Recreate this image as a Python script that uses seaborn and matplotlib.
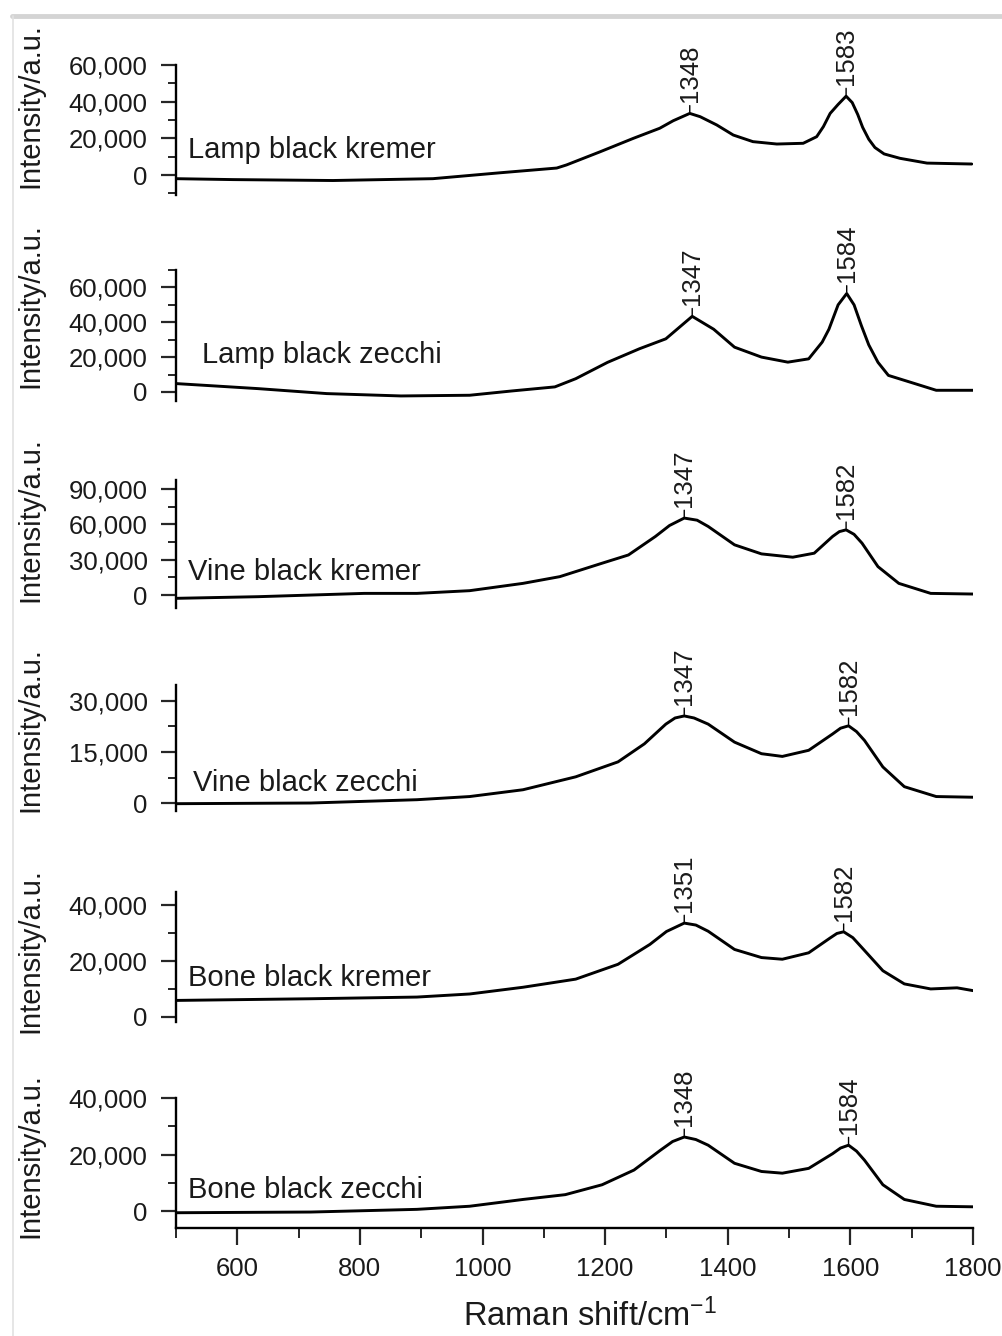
import matplotlib
matplotlib.use("Agg")
import matplotlib.pyplot as plt
from matplotlib.ticker import MultipleLocator, FuncFormatter
from matplotlib.lines import Line2D
import seaborn as sns
import numpy as np

# ---------------- data ----------------
sample_names = ["Lamp black kremer", "Lamp black zecchi", "Vine black kremer",
                "Vine black zecchi", "Bone black kremer", "Bone black zecchi"]

wn_lamp_kremer = [500, 593, 756, 919, 1028, 1121, 1137, 1192, 1246, 1289, 1311, 1338, 1355,
                  1382, 1409, 1441, 1480, 1523, 1545, 1556, 1567, 1580, 1593, 1603, 1612,
                  1620, 1630, 1640, 1655, 1681, 1725, 1798]
int_lamp_kremer = [-2000, -2500, -3000, -2000, 1200, 3800, 5500, 12700, 20000, 25500, 29600,
                   33600, 31800, 27300, 21800, 18200, 16900, 17300, 20900, 26400, 33600,
                   38500, 43000, 39500, 33000, 26000, 19500, 15000, 11500, 9100, 6500, 6000]

wn_lamp_zecchi = [500, 565, 634, 746, 867, 979, 1048, 1118, 1152, 1204, 1256, 1299, 1342,
                  1377, 1411, 1455, 1498, 1532, 1554, 1565, 1580, 1594, 1606, 1618, 1630,
                  1645, 1662, 1705, 1740, 1800]
int_lamp_zecchi = [4800, 3400, 1900, -950, -2300, -1900, 570, 2900, 7600, 17000, 24800,
                   30500, 43400, 36000, 25700, 20000, 17100, 19000, 28600, 36000, 50000,
                   56500, 50000, 38000, 27000, 17000, 9500, 4800, 950, 950]

wn_vine_kremer = [500, 634, 807, 893, 979, 1066, 1126, 1195, 1238, 1282, 1305, 1329, 1350,
                  1368, 1411, 1455, 1506, 1541, 1571, 1582, 1593, 1606, 1619, 1645, 1679,
                  1731, 1800]
int_vine_kremer = [-2800, -1400, 1400, 1400, 3700, 9900, 15600, 27000, 34000, 49700, 59000,
                   65300, 63500, 58200, 42600, 34900, 32100, 35500, 49700, 53800, 55300,
                   51500, 44000, 24100, 9900, 1400, 850]

wn_vine_zecchi = [500, 720, 893, 979, 1066, 1152, 1221, 1264, 1299, 1314, 1329, 1345, 1368,
                  1411, 1455, 1489, 1532, 1571, 1584, 1597, 1610, 1623, 1653, 1688, 1740,
                  1800]
int_vine_zecchi = [-200, 0, 970, 1900, 3900, 7700, 12100, 17400, 23200, 25000, 25600, 25000,
                   23200, 17900, 14500, 13700, 15500, 20300, 22000, 22700, 21000, 18400,
                   10600, 4800, 1900, 1700]

wn_bone_kremer = [500, 720, 893, 979, 1066, 1152, 1221, 1273, 1300, 1329, 1348, 1368, 1411,
                  1455, 1489, 1532, 1567, 1578, 1589, 1604, 1619, 1653, 1688, 1731, 1774,
                  1800]
int_bone_kremer = [5900, 6500, 7100, 8200, 10600, 13500, 18800, 25900, 30500, 33500, 32800,
                   30600, 24100, 21200, 20600, 22900, 28200, 29800, 30400, 28300, 24700,
                   16500, 11800, 10000, 10400, 9400]

wn_bone_zecchi = [500, 720, 893, 979, 1066, 1135, 1195, 1247, 1290, 1310, 1329, 1348, 1368,
                  1411, 1455, 1489, 1532, 1571, 1584, 1597, 1610, 1623, 1653, 1688, 1740,
                  1800]
int_bone_zecchi = [-600, -350, 600, 1700, 4100, 5800, 9300, 14500, 21500, 24600, 26200,
                   25300, 23300, 16900, 14000, 13400, 15100, 20300, 22300, 23300, 21200,
                   18000, 9300, 4100, 1700, 1500]

peak_labels = [("1348", "1583"), ("1347", "1584"), ("1347", "1582"),
               ("1347", "1582"), ("1351", "1582"), ("1348", "1584")]

x_ticks = [600, 800, 1000, 1200, 1400, 1600, 1800]

series = [(wn_lamp_kremer, int_lamp_kremer), (wn_lamp_zecchi, int_lamp_zecchi),
          (wn_vine_kremer, int_vine_kremer), (wn_vine_zecchi, int_vine_zecchi),
          (wn_bone_kremer, int_bone_kremer), (wn_bone_zecchi, int_bone_zecchi)]

# ---------------- layout / style ----------------
sns.set_style("white")
plt.rcParams['font.family'] = ['Liberation Sans', 'DejaVu Sans']
plt.rcParams['mathtext.fontset'] = 'custom'
plt.rcParams['mathtext.rm'] = 'Liberation Sans'
plt.rcParams['mathtext.default'] = 'regular'

W, H = 1002, 1336
fig = plt.figure(figsize=(W / 100, H / 100), dpi=100)
fig.patch.set_facecolor("white")

panel_px = [(65, 195), (270, 401), (480, 608), (685, 811), (892, 1022), (1098, 1228)]
ylims = [(-10900, 60000), (-5200, 70000), (-11000, 97600), (-2350, 34700),
         (-1800, 44600), (-6000, 40000)]
majors = [20000, 20000, 30000, 15000, 20000, 20000]
ylabel_y = [0.69, 0.73, 0.69, 0.65, 0.55, 0.56]
name_pos = [(0.015, 0.285), (0.033, 0.29), (0.015, 0.22), (0.021, 0.16),
            (0.015, 0.28), (0.015, 0.23)]

left_px, right_px = 176, 973
txt = "#1a1a1a"
fmt = FuncFormatter(lambda v, p: f"{v:,.0f}")

for i, ((wn, inten), (top, bot)) in enumerate(zip(series, panel_px)):
    ax = fig.add_axes([left_px / W, 1 - bot / H, (right_px - left_px) / W, (bot - top) / H])
    ax.set_facecolor("none")
    sns.lineplot(x=wn, y=inten, ax=ax, color="black", lw=2.1, sort=False)
    ax.set_xlim(500, 1800)
    ax.set_ylim(*ylims[i])
    for s in ["top", "right"]:
        ax.spines[s].set_visible(False)
    ax.spines["left"].set_linewidth(1.7)
    ax.spines["left"].set_color("black")
    ax.yaxis.set_major_locator(MultipleLocator(majors[i]))
    ax.yaxis.set_minor_locator(MultipleLocator(majors[i] / 2))
    ax.yaxis.set_major_formatter(fmt)
    ax.tick_params(axis="y", which="major", direction="out", length=10.5, width=1.6,
                   pad=10, labelsize=18.5, labelcolor=txt, left=True)
    ax.tick_params(axis="y", which="minor", direction="out", length=5.5, width=1.4, left=True)
    ax.set_ylabel("Intensity/a.u.", fontsize=21, color=txt)
    ax.yaxis.set_label_coords(-0.183, ylabel_y[i])
    ax.yaxis.label.set_va("center")

    if i < 5:
        ax.spines["bottom"].set_visible(False)
        ax.set_xticks([])
        ax.set_xlabel("")
    else:
        ax.spines["bottom"].set_linewidth(1.7)
        ax.spines["bottom"].set_color("black")
        ax.set_xticks(x_ticks)
        ax.xaxis.set_minor_locator(MultipleLocator(100))
        ax.tick_params(axis="x", which="major", direction="out", length=12, width=1.6,
                       pad=9, labelsize=18.5, labelcolor=txt, bottom=True)
        ax.tick_params(axis="x", which="minor", direction="out", length=7.5, width=1.4,
                       bottom=True)
        ax.set_xlabel(r"Raman shift/cm$^{-1}$", fontsize=23.5, color=txt)
        ax.xaxis.set_label_coords(0.52, -0.54)

    ax.text(name_pos[i][0], name_pos[i][1], sample_names[i], transform=ax.transAxes,
            fontsize=21, color=txt, ha="left", va="baseline")

    # peak annotations (D and G bands)
    wn_a = np.array(wn)
    in_a = np.array(inten)
    for lab, mask in zip(peak_labels[i], [wn_a < 1450, wn_a >= 1450]):
        idx = np.argmax(np.where(mask, in_a, -np.inf))
        ax.annotate(lab, xy=(wn_a[idx], in_a[idx]), xytext=(0, 8), textcoords="offset points",
                    rotation=90, ha="center", va="bottom", fontsize=18.5, color=txt,
                    annotation_clip=False,
                    arrowprops=dict(arrowstyle="-", lw=1.0, color="black",
                                    shrinkA=0, shrinkB=1))

# light screenshot frame
fig.add_artist(Line2D([12 / W, 1], [1 - 16 / H, 1 - 16 / H], color="#d4d4d4", lw=3.5))
fig.add_artist(Line2D([12.5 / W, 12.5 / W], [0, 1 - 16 / H], color="#e2e2e2", lw=1.2))

fig.savefig("out.png", dpi=100, facecolor="white")
